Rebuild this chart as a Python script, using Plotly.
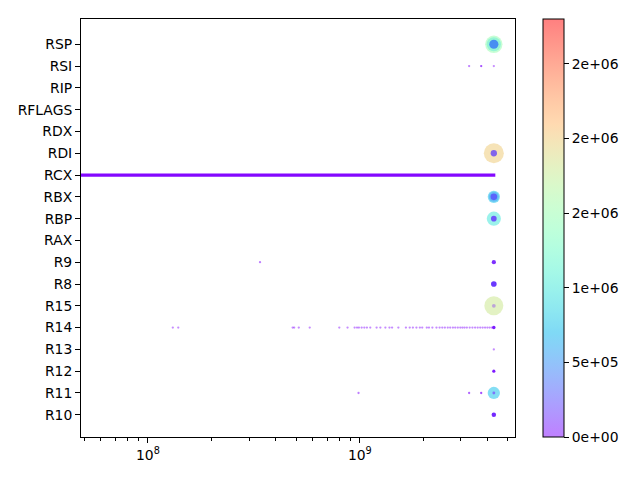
import plotly.graph_objects as go
import numpy as np

# y categories, bottom to top
registers = ["R10", "R11", "R12", "R13", "R14", "R15", "R8", "R9", "RAX", "RBP",
             "RBX", "RCX", "RDI", "RDX", "RFLAGS", "RIP", "RSI", "RSP"]

# scatter points: register, x, count
pt_reg = ["RSP", "RSP", "RSP",
          "RSI", "RSI", "RSI",
          "RDI", "RDI",
          "RBX", "RBX", "RBX",
          "RBP", "RBP",
          "R9", "R9",
          "R8",
          "R15", "R15",
          "R14",
          "R13",
          "R12",
          "R11", "R11", "R11", "R11", "R11",
          "R10"]
pt_x = [4.29e9, 4.29e9, 4.29e9,
        3.28e9, 3.74e9, 4.29e9,
        4.29e9, 4.29e9,
        4.29e9, 4.29e9, 4.29e9,
        4.29e9, 4.29e9,
        3.38e8, 4.29e9,
        4.29e9,
        4.29e9, 4.29e9,
        4.29e9,
        4.29e9,
        4.29e9,
        9.86e8, 3.28e9, 3.74e9, 4.29e9, 4.29e9,
        4.29e9]
pt_count = [1.5e6, 1.0e6, 4.2e5,
            3000, 8000, 1500,
            2.0e6, 2.0e5,
            7.5e5, 5.0e5, 2.2e5,
            1.0e6, 1.6e5,
            1000, 9.0e4,
            1.6e5,
            1.8e6, 7.0e4,
            6.0e4,
            2000,
            5.0e4,
            1500, 3000, 8000, 7.5e5, 4.0e4,
            1.0e5]
# overlap density of hits at each point (drawn opacity)
pt_alpha = [0.5, 0.35, 0.8,
            0.5, 0.7, 0.45,
            0.5, 0.75,
            0.5, 0.35, 0.7,
            0.5, 0.8,
            0.5, 0.9,
            0.95,
            0.5, 0.35,
            0.95,
            0.45,
            0.95,
            0.5, 0.6, 0.7, 0.5, 0.5,
            0.95]

# many small R14 hits
r14_x = [1.31e8, 1.39e8, 4.82e8, 4.9e8, 5.15e8, 5.8e8, 8.0e8, 8.75e8, 9.45e8, 9.7e8,
         9.9e8, 1.02e9, 1.05e9, 1.08e9, 1.12e9, 1.2e9, 1.25e9, 1.32e9, 1.38e9, 1.42e9,
         1.52e9, 1.65e9, 1.72e9, 1.78e9, 1.85e9, 1.92e9, 1.97e9, 2.07e9, 2.12e9, 2.2e9,
         2.3e9, 2.38e9, 2.45e9, 2.52e9, 2.6e9, 2.67e9, 2.75e9, 2.82e9, 2.9e9, 2.98e9,
         3.05e9, 3.12e9, 3.2e9, 3.3e9, 3.4e9, 3.5e9, 3.6e9, 3.7e9, 3.8e9, 3.9e9,
         4.0e9, 4.1e9, 4.2e9]
r14_count = [1500, 1500, 2000, 1500, 1500, 1500, 3000, 1500, 1500, 2000,
             1500, 2000, 1500, 1500, 2000, 1500, 2000, 1500, 1500, 3000,
             1500, 2000, 1500, 1500, 2000, 1500, 2000, 1500, 1500, 1500,
             2000, 1500, 1500, 2000, 1500, 1500, 2000, 1500, 1500, 1500,
             2000, 1500, 1500, 2000, 2000, 1500, 2000, 2000, 1500, 2000,
             2000, 2000, 3000]

# RCX: continuous dense band of hits
rcx_x = [4.0e7, 4.36e9]

cmin, cmax = 0, 2.8e6
cbar_vals = [0, 5e5, 1e6, 1.5e6, 2e6, 2.5e6]
cbar_text = ["0e+00", "5e+05", "1e+06", "2e+06", "2e+06", "2e+06"]


def rainbow(t):
    r = min(1, abs(2 * t - 0.5))
    g = np.sin(np.pi * t)
    b = np.cos(np.pi / 2 * t)
    return int(round(r * 255)), int(round(g * 255)), int(round(b * 255))


solid_scale, alpha_scale = [], []
for t in np.linspace(0, 1, 21):
    r, g, b = rainbow(t)
    solid_scale.append([float(t), f"rgb({r},{g},{b})"])
    alpha_scale.append([float(t), f"rgba({r},{g},{b},0.5)"])

all_reg = pt_reg + ["R14"] * len(r14_x)
all_x = pt_x + r14_x
all_c = pt_count + r14_count
all_a = pt_alpha + [0.45] * len(r14_x)
order = np.argsort(all_c, kind="stable")[::-1]
xs = [all_x[i] for i in order]
ys = [registers.index(all_reg[i]) for i in order]
cs = [all_c[i] for i in order]
al = [all_a[i] for i in order]
sizes = [max(2.3, 0.01414 * np.sqrt(c)) for c in cs]

font = dict(family="DejaVu Sans", size=13.9, color="black")

fig = go.Figure()
fig.add_trace(go.Scatter(
    x=rcx_x, y=[registers.index("RCX")] * len(rcx_x), mode="lines",
    line=dict(color="rgba(128,0,255,0.97)", width=3.2),
    showlegend=False, hoverinfo="skip"))
fig.add_trace(go.Scatter(
    x=xs, y=ys, mode="markers",
    marker=dict(size=sizes, color=cs, colorscale=solid_scale, cmin=cmin, cmax=cmax,
                line=dict(width=0), opacity=al, showscale=False),
    showlegend=False, hoverinfo="skip"))
# colour bar (alpha 0.5 rainbow)
fig.add_trace(go.Scatter(
    x=[None], y=[None], mode="markers",
    marker=dict(color=[cmin], colorscale=alpha_scale, cmin=cmin, cmax=cmax, showscale=True,
                colorbar=dict(thickness=21, thicknessmode="pixels", len=1, lenmode="fraction",
                              x=1.064, xanchor="left", xpad=0, y=0.5, yanchor="middle", ypad=0,
                              outlinecolor="black", outlinewidth=1,
                              tickvals=cbar_vals, ticktext=cbar_text,
                              ticks="outside", ticklen=5, tickcolor="black",
                              tickfont=font)),
    showlegend=False, hoverinfo="skip"))

minor_vals = [m * 10 ** e for e in (7, 8, 9) for m in range(2, 10)]
fig.update_xaxes(type="log", range=[np.log10(4.83e7), np.log10(5.4e9)],
                 tickvals=[1e8, 1e9], ticktext=["10<sup>8</sup>", "10<sup>9</sup>"],
                 ticks="outside", ticklen=5, tickcolor="black", tickfont=font,
                 minor=dict(tickvals=minor_vals, ticks="outside", ticklen=3, tickcolor="black",
                            showgrid=False),
                 showline=True, linecolor="black", linewidth=1, mirror=True,
                 showgrid=False, zeroline=False)
fig.update_yaxes(range=[-1.02, 18.16], tickvals=list(range(len(registers))), ticktext=registers,
                 ticks="outside", ticklen=5, tickcolor="black", tickfont=font,
                 showline=True, linecolor="black", linewidth=1, mirror=True,
                 showgrid=False, zeroline=False)
fig.update_layout(width=640, height=480, margin=dict(l=71, r=133, t=10, b=51),
                  plot_bgcolor="white", paper_bgcolor="white", font=font)
fig.write_html("out.html")
